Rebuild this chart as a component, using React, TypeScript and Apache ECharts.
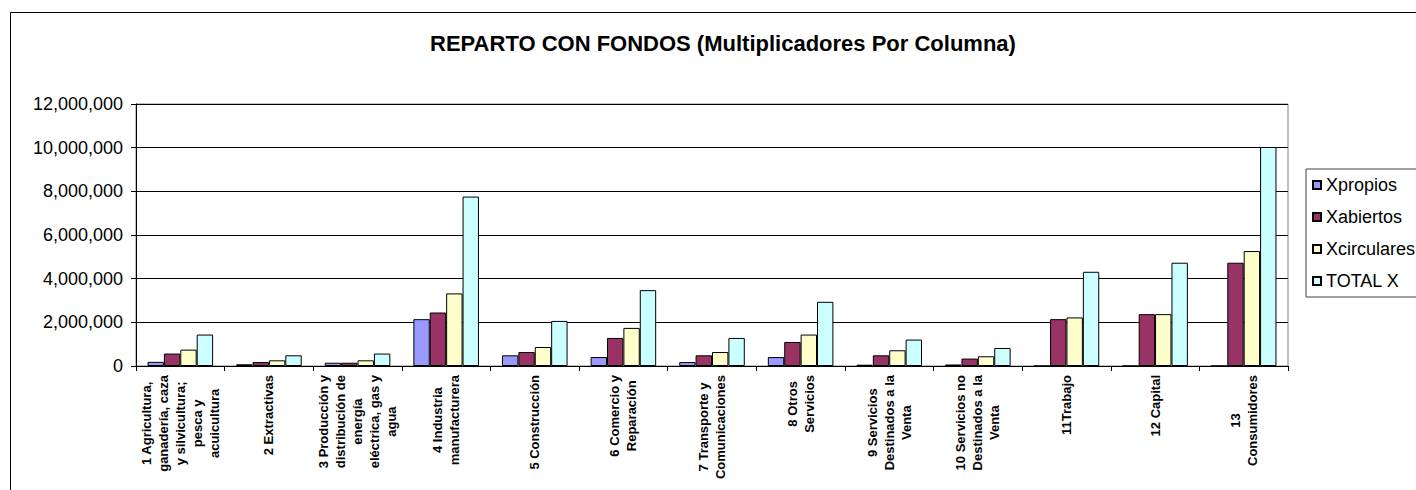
import React, { useEffect, useRef } from "react";
import * as echarts from "echarts";

const FONT = "'Liberation Sans', Arial, sans-serif";

const titleText = "REPARTO CON FONDOS (Multiplicadores Por Columna)";

const categories = [
  "1 Agricultura,\nganadería, caza\ny silvicultura;\npesca y\nacuicultura",
  "2 Extractivas",
  "3 Producción y\ndistribución de\nenergía\neléctrica, gas y\nagua",
  "4 Industria\nmanufacturera",
  "5 Construcción",
  "6 Comercio y\nReparación",
  "7 Transporte y\nComunicaciones",
  "8 Otros\nServicios",
  "9 Servicios\nDestinados a la\nVenta",
  "10 Servicios no\nDestinados a la\nVenta",
  "11Trabajo",
  "12 Capital",
  "13\nConsumidores",
];

const seriesNames = ["Xpropios", "Xabiertos", "Xcirculares", "TOTAL X"];
const seriesColors = ["#9999FF", "#993366", "#FFFFCC", "#CCFFFF"];

const xpropios = [190000, 80000, 150000, 2145000, 490000, 410000, 180000, 410000, 60000, 70000, 0, 0, 0];
const xabiertos = [570000, 180000, 150000, 2450000, 640000, 1285000, 490000, 1100000, 490000, 340000, 2145000, 2375000, 4730000];
const xcirculares = [750000, 260000, 260000, 3325000, 870000, 1745000, 640000, 1440000, 720000, 445000, 2225000, 2375000, 5265000];
const totalX = [1440000, 490000, 570000, 7760000, 2065000, 3475000, 1285000, 2940000, 1210000, 825000, 4315000, 4730000, 10030000];

const seriesValues = [xpropios, xabiertos, xcirculares, totalX];

export default function App() {
  const ref = useRef<HTMLDivElement>(null);

  useEffect(() => {
    if (!ref.current) return;
    const chart = echarts.init(ref.current, null, { renderer: "svg" });
    chart.setOption({
      animation: false,
      backgroundColor: "#ffffff",
      title: {
        text: titleText,
        left: 430,
        top: 32,
        padding: 0,
        textStyle: { fontFamily: FONT, fontSize: 22, fontWeight: "bold", color: "#000" },
      },
      graphic: [
        {
          type: "rect",
          shape: { x: 10.5, y: 12.5, width: 1500, height: 1000 },
          style: { fill: "none", stroke: "#000", lineWidth: 1 },
          silent: true,
          z: -1,
        },
      ],
      legend: {
        orient: "vertical",
        left: 1306,
        top: 169,
        padding: [7, 6, 7, 6],
        itemGap: 14,
        itemWidth: 8,
        itemHeight: 8,
        icon: "rect",
        borderColor: "#404040",
        borderWidth: 1,
        backgroundColor: "#fff",
        data: seriesNames,
        textStyle: { fontFamily: FONT, fontSize: 18, color: "#000" },
      },
      grid: {
        left: 136,
        right: 128,
        top: 104,
        bottom: 124,
        show: true,
        borderColor: "#808080",
        borderWidth: 1,
        backgroundColor: "transparent",
      },
      xAxis: {
        type: "category",
        data: categories,
        boundaryGap: true,
        axisLine: { show: true, lineStyle: { color: "#000", width: 1 } },
        axisTick: { show: true, interval: 0, length: 5, lineStyle: { color: "#000" } },
        axisLabel: {
          interval: 0,
          rotate: 90,
          margin: 9,
          formatter: (v: string) => v.split("\n").map((l) => `{c|${l}}`).join("\n"),
          rich: {
            c: {
              align: "center",
              fontFamily: FONT,
              fontSize: 13,
              fontWeight: "bold",
              lineHeight: 17,
              color: "#000",
            },
          },
        },
      },
      yAxis: {
        type: "value",
        min: 0,
        max: 12000000,
        interval: 2000000,
        axisLine: { show: true, lineStyle: { color: "#000", width: 1 } },
        axisTick: { show: true, length: 5, lineStyle: { color: "#000" } },
        splitLine: { show: true, lineStyle: { color: "#000", width: 1 } },
        axisLabel: {
          margin: 13,
          fontFamily: FONT,
          fontSize: 18,
          color: "#000",
          formatter: (v: number) => v.toLocaleString("en-US"),
        },
      },
      series: seriesNames.map((name, i) => ({
        name,
        type: "bar",
        data: seriesValues[i],
        barGap: "0%",
        barCategoryGap: "26%",
        itemStyle: { color: seriesColors[i], borderColor: "#000", borderWidth: 1 },
      })),
    });
    return () => chart.dispose();
  }, []);

  return (
    <div
      ref={ref}
      style={{ position: "fixed", left: 0, top: 0, width: 1416, height: 490 }}
    />
  );
}
